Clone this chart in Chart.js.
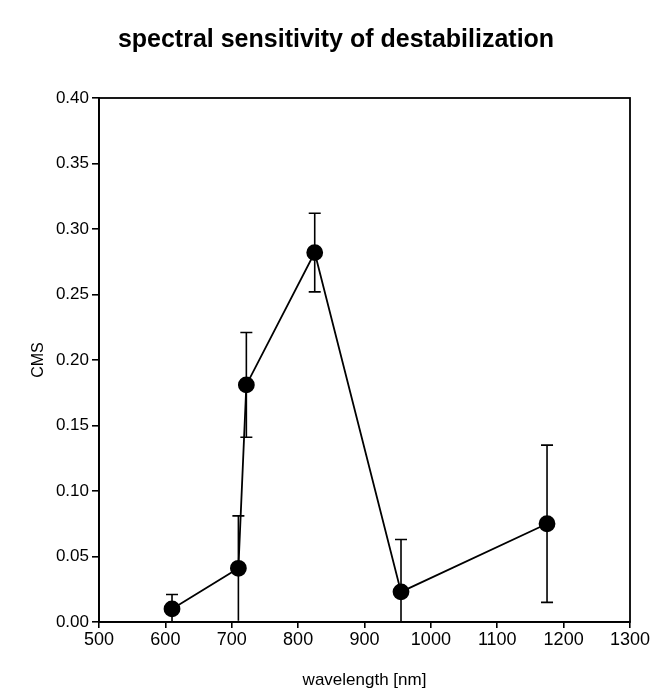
<!DOCTYPE html>
<html>
<head>
<meta charset="utf-8">
<script src="https://cdn.jsdelivr.net/npm/chart.js@4.4.1/dist/chart.umd.min.js"></script>
<style>
  html, body { margin: 0; padding: 0; background: #fff; }
  #wrap { width: 655px; height: 698px; }
</style>
</head>
<body>
<div id="wrap"><canvas id="myChart" width="655" height="698"></canvas></div>
<script>
// wavelengths (nm), CMS values and their error bars
var wavelengths = [610, 710, 722, 825, 955, 1175];
var cmsValues = [0.010, 0.041, 0.181, 0.282, 0.023, 0.075];
var cmsErrors = [0.011, 0.040, 0.040, 0.030, 0.040, 0.060];

var xTicks = [500, 600, 700, 800, 900, 1000, 1100, 1200, 1300];
var yTicks = [0.00, 0.05, 0.10, 0.15, 0.20, 0.25, 0.30, 0.35, 0.40];

var points = wavelengths.map(function (w, i) { return { x: w, y: cmsValues[i] } });

// error bars + frame round the plot area
var errorBars = {
    id: 'errorBars',
    beforeDatasetsDraw: function (chart) {
        var ctx = chart.ctx;
        var xs = chart.scales.x, ys = chart.scales.y;
        ctx.save();
        ctx.strokeStyle = '#000';
        ctx.lineWidth = 1.6;
        wavelengths.forEach(function (w, i) {
            var px = xs.getPixelForValue(w);
            var top = ys.getPixelForValue(cmsValues[i] + cmsErrors[i]);
            var bot = ys.getPixelForValue(Math.max(0, cmsValues[i] - cmsErrors[i]));
            ctx.beginPath();
            ctx.moveTo(px, top); ctx.lineTo(px, bot);
            ctx.moveTo(px - 6, top); ctx.lineTo(px + 6, top);
            if (cmsValues[i] - cmsErrors[i] > 0.002) {
                ctx.moveTo(px - 6, bot); ctx.lineTo(px + 6, bot);
            }
            ctx.stroke();
        });
        ctx.restore();
    },
    afterDraw: function (chart) {
        var a = chart.chartArea, ctx = chart.ctx;
        ctx.save();
        ctx.strokeStyle = '#000';
        ctx.lineWidth = 1.8;
        ctx.strokeRect(a.left, a.top, a.right - a.left, a.bottom - a.top);
        ctx.restore();
    }
};

Chart.defaults.font.family = '"Liberation Sans", Arial, sans-serif';
Chart.defaults.color = '#000';

new Chart('myChart', {
    type: 'scatter',
    data: {
        datasets: [{
            data: points,
            showLine: true,
            borderColor: '#000',
            borderWidth: 1.8,
            backgroundColor: '#000',
            pointRadius: 7.5,
            pointHoverRadius: 7.5,
            tension: 0
        }]
    },
    options: {
        responsive: false,
        animation: false,
        layout: { padding: { left: 17, right: 0, top: 0, bottom: 0 } },
        plugins: {
            legend: { display: false },
            tooltip: { enabled: false },
            title: {
                display: true,
                text: 'spectral sensitivity of destabilization',
                color: '#000',
                font: { size: 25, weight: 'bold' },
                padding: { top: 25, bottom: 43 }
            }
        },
        scales: {
            x: {
                type: 'linear',
                min: 500,
                max: 1300,
                afterBuildTicks: function (s) { s.ticks = xTicks.map(function (v) { return { value: v } }) },
                afterFit: function (s) { s.height = 76 },
                ticks: { font: { size: 18 }, padding: 1, maxRotation: 0, callback: function (v) { return String(v) } },
                grid: { display: true, drawOnChartArea: false, drawTicks: true, tickLength: 6, color: '#000', lineWidth: 1.6 },
                border: { display: true, color: '#000', width: 1.8 },
                title: { display: true, text: 'wavelength [nm]', font: { size: 17 }, padding: { top: 2, bottom: 7 } }
            },
            y: {
                min: 0,
                max: 0.4,
                afterBuildTicks: function (s) { s.ticks = yTicks.map(function (v) { return { value: v } }) },
                afterFit: function (s) { s.width = 82 },
                ticks: { font: { size: 17 }, padding: 3, callback: function (v) { return v.toFixed(2) } },
                grid: { display: true, drawOnChartArea: false, drawTicks: true, tickLength: 7, color: '#000', lineWidth: 1.6 },
                border: { display: true, color: '#000', width: 1.8 },
                title: { display: true, text: 'CMS', font: { size: 16 }, padding: { top: 12, bottom: 0 } }
            },
            yRight: {
                position: 'right',
                display: true,
                afterFit: function (s) { s.width = 25 },
                ticks: { display: false },
                grid: { display: false },
                border: { display: false }
            }
        }
    },
    plugins: [errorBars]
});
</script>
</body>
</html>
